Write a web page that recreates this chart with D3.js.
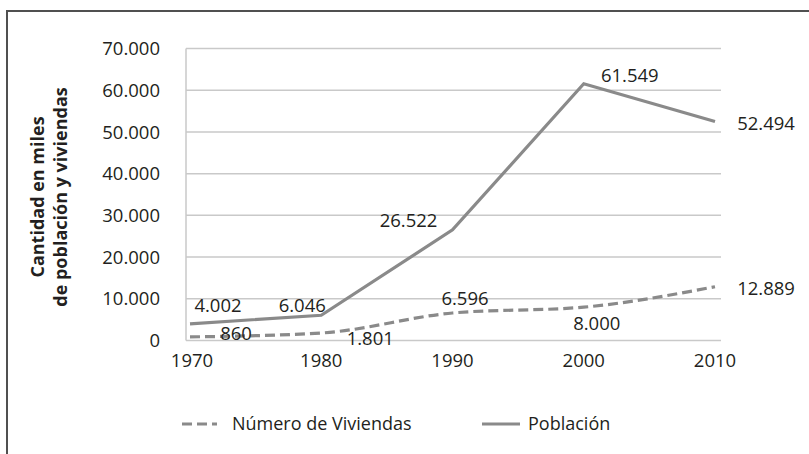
<!DOCTYPE html>
<html>
<head>
<meta charset="utf-8">
<script src="https://cdn.jsdelivr.net/npm/d3@7"></script>
<style>
  html, body { margin: 0; padding: 0; background: #fff; }
  svg { display: block; }
  text { font-family: "Open Sans", sans-serif; fill: #231f20; }
</style>
</head>
<body>
<svg id="chart" width="809" height="454"></svg>
<script>
// ---- data ----
const years = ["1970", "1980", "1990", "2000", "2010"];
const viviendas = [860, 1801, 6596, 8000, 12889];
const poblacion = [4002, 6046, 26522, 61549, 52494];
const viviendasLabels = ["860", "1.801", "6.596", "8.000", "12.889"];
const poblacionLabels = ["4.002", "6.046", "26.522", "61.549", "52.494"];
const yTicks = [0, 10000, 20000, 30000, 40000, 50000, 60000, 70000];
const yTickLabels = ["0", "10.000", "20.000", "30.000", "40.000", "50.000", "60.000", "70.000"];
const seriesNames = ["Número de Viviendas", "Población"];
const yTitle = ["Cantidad en miles", "de población y viviendas"];

// ---- layout / style ----
const plot = { left: 186, right: 721, top: 48.5, bottom: 340.5 };
const lineColor = "#8a8a8a";
const gridColor = "#c9c9c9";
// label offsets (dx, dy) relative to each point, as placed in the reference
const popOffsets = [[28, -12], [-19, -3], [-44, -3], [46, -2], [51, 8.5]];
const vivOffsets = [[46, 3], [49, 12], [12.5, -8], [13, 23], [51, 8]];

const svg = d3.select("#chart");

// outer frame (extends beyond right/bottom edges)
svg.append("rect")
  .attr("x", 7).attr("y", 11)
  .attr("width", 900).attr("height", 600)
  .attr("fill", "none").attr("stroke", "#505050").attr("stroke-width", 2);

const x = d3.scalePoint().domain(years).range([190, 715]);
const y = d3.scaleLinear().domain([0, 70000]).range([plot.bottom, plot.top]);

// gridlines
svg.append("g").selectAll("line").data(yTicks.slice(1)).join("line")
  .attr("x1", plot.left).attr("x2", plot.right)
  .attr("y1", d => y(d)).attr("y2", d => y(d))
  .attr("stroke", gridColor).attr("stroke-width", 1.5);

// axes lines
svg.append("line")
  .attr("x1", plot.left).attr("x2", plot.left)
  .attr("y1", plot.top).attr("y2", plot.bottom)
  .attr("stroke", gridColor).attr("stroke-width", 1.5);
svg.append("line")
  .attr("x1", plot.left).attr("x2", plot.right)
  .attr("y1", plot.bottom).attr("y2", plot.bottom)
  .attr("stroke", gridColor).attr("stroke-width", 1.5);

// y tick labels
svg.append("g").selectAll("text").data(yTicks).join("text")
  .attr("x", 160).attr("y", d => y(d))
  .attr("dy", "0.36em")
  .attr("text-anchor", "end")
  .attr("font-size", 18.5)
  .text((d, i) => yTickLabels[i]);

// x tick labels
svg.append("g").selectAll("text").data(years).join("text")
  .attr("x", d => x(d) + (d === years[0] ? 2 : 0)).attr("y", 367)
  .attr("text-anchor", "middle")
  .attr("font-size", 18.5)
  .text(d => d);

// y title
const yt = svg.append("text")
  .attr("transform", "translate(48,197) rotate(-90)")
  .attr("text-anchor", "middle")
  .attr("font-size", 18)
  .attr("font-weight", "bold");
yt.append("tspan").attr("x", 0).attr("dy", "-0.25em").text(yTitle[0]);
yt.append("tspan").attr("x", 0).attr("dy", "1.3em").text(yTitle[1]);

// lines
const vivLine = d3.line()
  .x((d, i) => x(years[i])).y(d => y(d))
  .curve(d3.curveMonotoneX);
const popLine = d3.line()
  .x((d, i) => x(years[i])).y(d => y(d));

svg.append("path").datum(poblacion)
  .attr("d", popLine)
  .attr("fill", "none").attr("stroke", lineColor)
  .attr("stroke-width", 3.2).attr("stroke-linejoin", "miter");

svg.append("path").datum(viviendas)
  .attr("d", vivLine)
  .attr("fill", "none").attr("stroke", lineColor)
  .attr("stroke-width", 3.2).attr("stroke-dasharray", "10,5");

// data labels
svg.append("g").selectAll("text").data(poblacion).join("text")
  .attr("x", (d, i) => x(years[i]) + popOffsets[i][0])
  .attr("y", (d, i) => y(d) + popOffsets[i][1])
  .attr("text-anchor", "middle").attr("font-size", 18.5)
  .text((d, i) => poblacionLabels[i]);

svg.append("g").selectAll("text").data(viviendas).join("text")
  .attr("x", (d, i) => x(years[i]) + vivOffsets[i][0])
  .attr("y", (d, i) => y(d) + vivOffsets[i][1])
  .attr("text-anchor", "middle").attr("font-size", 18.5)
  .text((d, i) => viviendasLabels[i]);

// legend
const legend = svg.append("g");
const legendItems = [
  { name: seriesNames[0], x0: 182, x1: 217, tx: 232, dash: "10,5" },
  { name: seriesNames[1], x0: 482, x1: 520, tx: 528, dash: null }
];
legendItems.forEach(it => {
  legend.append("line")
    .attr("x1", it.x0).attr("x2", it.x1).attr("y1", 424).attr("y2", 424)
    .attr("stroke", lineColor).attr("stroke-width", 3.2)
    .attr("stroke-dasharray", it.dash);
  legend.append("text")
    .attr("x", it.tx).attr("y", 424).attr("dy", "0.36em")
    .attr("font-size", 18)
    .text(it.name);
});
</script>
</body>
</html>
